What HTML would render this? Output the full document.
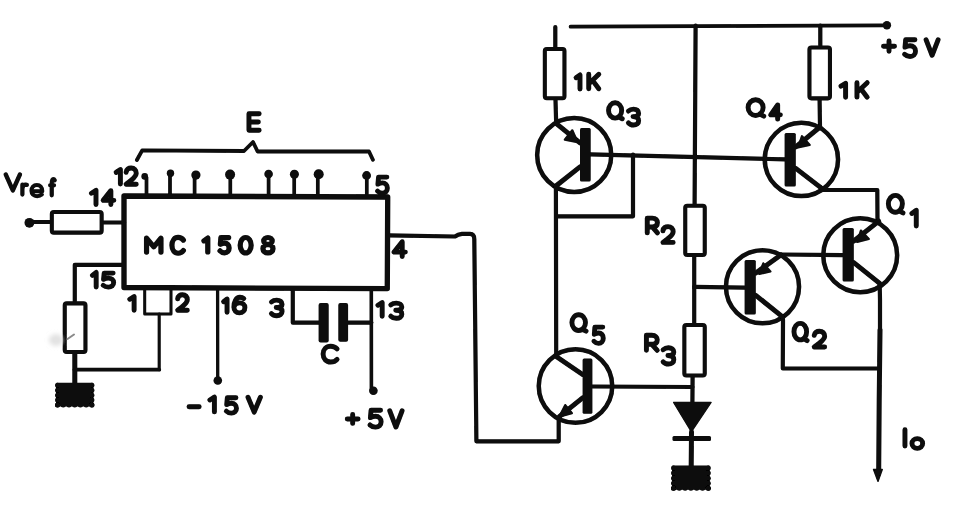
<!DOCTYPE html>
<html><head><meta charset="utf-8"><style>
html,body{margin:0;padding:0;background:#fff;}
svg{display:block;}
</style></head><body>
<svg width="966" height="522" viewBox="0 0 966 522">
<defs><filter id="bl2" x="-50%" y="-50%" width="200%" height="200%"><feGaussianBlur stdDeviation="2"/></filter>
<filter id="soft" filterUnits="userSpaceOnUse" x="0" y="0" width="966" height="522"><feGaussianBlur stdDeviation="0.45"/></filter></defs>
<rect width="966" height="522" fill="#fff"/>
<g filter="url(#soft)">
<g fill="none" stroke="#080808" stroke-width="4.2" stroke-linecap="round" stroke-linejoin="round">
<path d="M124,196 L387.7,197 L387.3,288.6 L124,287.5 Z" stroke-width="5.3"/>
<path d="M30,222 L50,222"/>
<rect x="51.85" y="212.05" width="49.80" height="20.60" rx="2" stroke-width="4.1"/>
<path d="M103.7,222.5 L124,222.5"/>
<path d="M146.5,196 L146.5,177.4" stroke-width="3.7"/>
<path d="M170,196 L170,174.3" stroke-width="3.7"/>
<path d="M194.6,196 L194.6,176.1" stroke-width="3.7"/>
<path d="M230.3,196 L230.3,175.6" stroke-width="3.7"/>
<path d="M268.6,196 L268.6,175" stroke-width="3.7"/>
<path d="M294.2,196 L294.2,175.3" stroke-width="3.7"/>
<path d="M317.8,196 L317.8,175.3" stroke-width="3.7"/>
<path d="M366.8,196 L366.8,176.5" stroke-width="3.7"/>
<path d="M136.9,160 L142.2,150.4 L244,151 L253,142 L257.6,151.5 L369,151.5 L372.9,159.8" stroke-width="3.8"/>
<path d="M124,264.8 L74.8,264.8 L74.8,301.5"/>
<rect x="64.75" y="303.35" width="20.70" height="48.70" rx="2" stroke-width="4.1"/>
<path d="M74.8,354 L74.8,383" stroke-width="5"/>
<path d="M74.5,369.7 L159.2,369.7" stroke-width="3.8"/>
<path d="M159.2,369.7 L159.2,314" stroke-width="3.1"/>
<path d="M144.7,288 L144.7,314 L171,314 L171,288" stroke-width="3.0"/>
<path d="M217.6,288.5 L217.7,380" stroke-width="3.3"/>
<path d="M292.8,289 L292.8,322.7 L319,322.7"/>
<path d="M348,322.6 L371.3,322.6"/>
<path d="M371.3,289 L371.4,390" stroke-width="3.6"/>
<path d="M388,235.4 L455,236.5 Q458,234.3 462,233.8 L470,233.8 Q474.3,234 474.3,239 L476.4,441.3 L558.7,441.3 L558.7,418.6"/>
<path d="M67.5,339 L74,334.5" stroke="#8a8a8a" stroke-width="2"/>
<path d="M570.6,26.7 L887,25.4" stroke-width="3.8"/>
<path d="M555.3,27 L555.3,47"/>
<rect x="544.85" y="48.95" width="19.60" height="49.30" rx="2" stroke-width="4.1"/>
<path d="M555.5,100 L556.2,123.8"/>
<path d="M820.3,25.5 L820.3,46"/>
<rect x="809.45" y="47.45" width="20.50" height="50.90" rx="2" stroke-width="4.1"/>
<path d="M819.6,100 L820,127"/>
<path d="M695.6,25.5 L694.6,204"/>
<rect x="685.25" y="205.75" width="19.50" height="49.20" rx="2" stroke-width="4.1"/>
<path d="M694.2,256.5 L694.2,323"/>
<rect x="684.35" y="324.95" width="20.40" height="50.50" rx="2" stroke-width="4.1"/>
<path d="M692.6,377 L692.4,403"/>
<path d="M691.5,432 L691.2,466" stroke-width="5"/>
<circle cx="574.2" cy="155" r="37.05" stroke-width="4.5"/>
<path d="M590,154.4 L785,159.4"/>
<path d="M556.7,123.8 L580,142.8" stroke-width="4.9"/>
<path d="M580,166.9 L555.9,186" stroke-width="4.9"/>
<path d="M555.9,186 L556.2,356.4"/>
<path d="M633,154.6 L633,216.3 L556.5,216.3"/>
<circle cx="801.4" cy="159.4" r="36.65" stroke-width="4.5"/>
<path d="M820,127 L795.8,146.9" stroke-width="4.9"/>
<path d="M795.8,168.4 L820.8,187.6" stroke-width="4.9"/>
<path d="M820.8,187.6 L822,190 L877.3,190 L877.5,221"/>
<circle cx="860.2" cy="255.3" r="36.95" stroke-width="4.5"/>
<path d="M878.8,221.2 L853.8,241" stroke-width="4.9"/>
<path d="M781,254.5 L842.6,255.2"/>
<path d="M853.8,262.6 L879.7,283.3" stroke-width="4.9"/>
<path d="M879.7,283.3 L880,300 L880,330"/>
<path d="M880,330 L879.2,400 L878.7,470" stroke-width="5"/>
<circle cx="762.5" cy="286.8" r="36.55" stroke-width="4.5"/>
<path d="M780.8,254.9 L755.8,273" stroke-width="4.9"/>
<path d="M694.2,286.8 L744.6,287.7"/>
<path d="M755.8,295.4 L781.7,316.1" stroke-width="4.9"/>
<path d="M781.7,316.1 L783,320 L782.8,368.5 L878.7,368.5"/>
<circle cx="575.5" cy="386.1" r="36.75" stroke-width="4.5"/>
<path d="M556.2,356.4 L582.6,374.5" stroke-width="4.9"/>
<path d="M582.6,397.8 L559.3,416.7" stroke-width="4.9"/>
<path d="M592.4,386.5 L692.4,387"/>
</g>
<g fill="#080808" stroke="none">
<circle cx="29.4" cy="222.8" r="4.9"/>
<circle cx="144.7" cy="176.4" r="3.3"/>
<circle cx="170.5" cy="173.3" r="3.7"/>
<circle cx="195.9" cy="175.1" r="4.6"/>
<circle cx="230.1" cy="174.6" r="5"/>
<circle cx="268.6" cy="174" r="4.3"/>
<circle cx="294.4" cy="174.3" r="4.5"/>
<circle cx="318.7" cy="174.3" r="5"/>
<circle cx="366.6" cy="175.5" r="4.4"/>
<rect x="56" y="382.7" width="37.40" height="23.90" rx="1"/>
<circle cx="57.50" cy="385.20" r="2.5"/><circle cx="91.90" cy="385.20" r="2.5"/>
<circle cx="57.50" cy="390.18" r="2.5"/><circle cx="91.90" cy="390.18" r="2.5"/>
<circle cx="57.50" cy="395.15" r="2.5"/><circle cx="91.90" cy="395.15" r="2.5"/>
<circle cx="57.50" cy="400.12" r="2.5"/><circle cx="91.90" cy="400.12" r="2.5"/>
<circle cx="57.50" cy="405.10" r="2.5"/><circle cx="91.90" cy="405.10" r="2.5"/>
<circle cx="57.50" cy="405.10" r="2.5"/>
<circle cx="63.23" cy="405.10" r="2.5"/>
<circle cx="68.97" cy="405.10" r="2.5"/>
<circle cx="74.70" cy="405.10" r="2.5"/>
<circle cx="80.43" cy="405.10" r="2.5"/>
<circle cx="86.17" cy="405.10" r="2.5"/>
<circle cx="91.90" cy="405.10" r="2.5"/>
<circle cx="217.8" cy="380.5" r="4.3"/>
<rect x="318.6" y="302.9" width="10.10" height="39.50" rx="2"/>
<rect x="338.3" y="302.9" width="9.80" height="38.80" rx="2"/>
<circle cx="373.4" cy="390.8" r="4.3"/>
<ellipse cx="56" cy="340" rx="7" ry="6" fill="#e2e2e2" filter="url(#bl2)"/>
<circle cx="886.9" cy="25.2" r="4.2"/>
<polygon points="673.7,402.4 711,402.4 691.4,431.5" stroke="#080808" stroke-width="1.5" stroke-linejoin="round"/>
<rect x="672.5" y="436" width="38.50" height="5.00" rx="1.5"/>
<rect x="672" y="465.5" width="37.80" height="24.30" rx="1"/>
<circle cx="673.50" cy="468.00" r="2.5"/><circle cx="708.30" cy="468.00" r="2.5"/>
<circle cx="673.50" cy="473.07" r="2.5"/><circle cx="708.30" cy="473.07" r="2.5"/>
<circle cx="673.50" cy="478.15" r="2.5"/><circle cx="708.30" cy="478.15" r="2.5"/>
<circle cx="673.50" cy="483.23" r="2.5"/><circle cx="708.30" cy="483.23" r="2.5"/>
<circle cx="673.50" cy="488.30" r="2.5"/><circle cx="708.30" cy="488.30" r="2.5"/>
<circle cx="673.50" cy="488.30" r="2.5"/>
<circle cx="679.30" cy="488.30" r="2.5"/>
<circle cx="685.10" cy="488.30" r="2.5"/>
<circle cx="690.90" cy="488.30" r="2.5"/>
<circle cx="696.70" cy="488.30" r="2.5"/>
<circle cx="702.50" cy="488.30" r="2.5"/>
<circle cx="708.30" cy="488.30" r="2.5"/>
<rect x="580" y="128.1" width="10.70" height="53.50" rx="1.5"/>
<polygon points="577.5,142.2 564.8,139.6 572.3,130.3" stroke="#080808" stroke-width="2.2" stroke-linejoin="round"/>
<rect x="784.6" y="133.1" width="11.20" height="53.50" rx="1.5"/>
<polygon points="798.0,147.5 802.0,136.2 809.7,144.9" stroke="#080808" stroke-width="2.2" stroke-linejoin="round"/>
<rect x="842.6" y="228.1" width="11.20" height="53.50" rx="1.5"/>
<polygon points="857.2,242.0 860.9,230.6 868.8,239.0" stroke="#080808" stroke-width="2.2" stroke-linejoin="round"/>
<polygon points="873.6,469.5 882.2,469.5 878,481.2" stroke="#080808" stroke-width="1.5" stroke-linejoin="round"/>
<rect x="744.6" y="260.1" width="11.20" height="54.30" rx="1.5"/>
<polygon points="759.3,274.0 763.3,263.4 770.4,271.5" stroke="#080808" stroke-width="2.2" stroke-linejoin="round"/>
<rect x="582.6" y="358.6" width="9.80" height="55.20" rx="1.5"/>
<polygon points="559.3,416.7 565.3,405.1 571.9,413.2" stroke="#080808" stroke-width="2.2" stroke-linejoin="round"/>
</g>
<g fill="none" stroke="#080808" stroke-linecap="round" stroke-linejoin="round">
<g id="g0"><path d="M 5.72,174.43 L 12.84,190.45 L 19.96,174.43" stroke-width="4.4"/></g>
<g id="g1"><path d="M 22.39,184.63 L 22.39,194.55 M 22.39,188.60 C 22.93,185.82 24.19,184.63 25.54,184.63 L 26.89,184.83" stroke-width="4.2"/></g>
<g id="g2"><path d="M 31.67,191.21 L 42.31,191.21 C 42.31,187.41 39.92,184.94 36.88,184.94 C 33.62,184.94 31.45,187.41 31.45,190.76 C 31.45,193.89 33.62,196.13 37.10,196.13 C 39.05,196.13 40.68,195.57 41.87,194.57" stroke-width="4.0"/></g>
<g id="g3"><path d="M 54.71,180.26 C 54.25,179.28 53.79,179.12 53.34,179.12 C 52.19,179.12 51.73,181.07 51.73,183.99 L 51.73,195.35 M 50.12,185.29 L 54.02,185.29" stroke-width="4.2"/></g>
<g id="g4"><path d="M 91.44,193.24 L 95.99,190.41 L 95.99,204.58" stroke-width="4.9"/></g>
<g id="g5"><path d="M 110.87,204.52 L 110.87,190.63 L 103.16,200.35 L 113.87,200.35" stroke-width="4.9"/></g>
<g id="g6"><path d="M 116.13,172.39 L 120.38,169.49 L 120.38,184.01" stroke-width="4.9"/></g>
<g id="g7"><path d="M 126.11,172.23 C 126.31,169.31 128.64,168.02 131.17,168.02 C 134.21,168.02 136.24,169.96 136.24,173.20 C 136.24,176.12 133.71,178.06 130.67,180.66 L 126.11,184.22 L 136.24,184.22" stroke-width="4.9"/></g>
<g id="g8"><path d="M 259.16,113.80 L 248.95,113.80 L 248.95,130.21 L 259.16,130.21 M 248.95,122.01 L 258.34,122.01" stroke-width="4.9"/></g>
<g id="g9"><path d="M 386.86,177.11 L 378.53,177.11 L 377.94,184.16 C 379.51,183.20 380.98,182.88 382.45,182.88 C 385.39,182.88 387.35,185.12 387.35,188.00 C 387.35,191.21 385.39,193.13 382.45,193.13 C 380.49,193.13 378.72,192.33 377.54,191.05" stroke-width="4.9"/></g>
<g id="g10"><path d="M 402.20,256.55 L 402.20,241.65 L 394.09,252.08 L 405.35,252.08" stroke-width="4.9"/></g>
<g id="g11"><path d="M 92.36,275.36 L 96.17,272.43 L 96.17,287.07" stroke-width="4.9"/></g>
<g id="g12"><path d="M 113.14,273.11 L 104.21,273.11 L 103.59,279.25 C 105.26,278.41 106.84,278.13 108.41,278.13 C 111.56,278.13 113.66,280.09 113.66,282.61 C 113.66,285.40 111.56,287.08 108.41,287.08 C 106.31,287.08 104.42,286.38 103.17,285.26" stroke-width="4.9"/></g>
<g id="g13"><path d="M 129.80,299.23 L 134.11,296.46 L 134.11,310.29" stroke-width="4.9"/></g>
<g id="g14"><path d="M 177.70,298.75 C 177.89,295.96 180.10,294.72 182.50,294.72 C 185.39,294.72 187.31,296.58 187.31,299.68 C 187.31,302.47 184.91,304.33 182.02,306.81 L 177.70,310.22 L 187.31,310.22" stroke-width="4.9"/></g>
<g id="g15"><path d="M 223.62,301.70 L 227.05,299.05 L 227.05,312.30" stroke-width="4.9"/></g>
<g id="g16"><path d="M 243.80,298.53 C 242.70,297.60 241.06,297.29 239.96,297.29 C 236.11,297.29 233.91,301.97 233.91,306.95 C 233.91,310.85 236.11,312.88 239.41,312.88 C 242.70,312.88 244.90,310.54 244.90,307.58 C 244.90,304.46 242.70,302.90 239.63,302.90 C 236.66,302.90 234.46,304.77 233.91,306.95" stroke-width="4.9"/></g>
<g id="g17"><path d="M 271.43,302.00 C 273.03,300.59 274.62,300.13 276.75,300.13 C 279.94,300.13 282.07,301.69 282.07,304.18 C 282.07,306.68 279.94,307.46 276.22,307.46 C 280.47,307.46 282.07,309.17 282.07,311.51 C 282.07,314.16 279.94,315.72 276.75,315.72 C 274.62,315.72 272.71,314.94 271.43,313.54" stroke-width="4.9"/></g>
<g id="g18"><path d="M 377.95,305.26 L 382.17,302.49 L 382.17,316.34" stroke-width="4.9"/></g>
<g id="g19"><path d="M 390.80,304.96 C 392.46,303.60 394.11,303.15 396.32,303.15 C 399.62,303.15 401.83,304.66 401.83,307.08 C 401.83,309.51 399.62,310.26 395.76,310.26 C 400.17,310.26 401.83,311.93 401.83,314.20 C 401.83,316.77 399.62,318.29 396.32,318.29 C 394.11,318.29 392.13,317.53 390.80,316.17" stroke-width="4.9"/></g>
<g id="g20"><path d="M 337.06,348.90 C 335.38,347.00 333.15,346.21 330.63,346.21 C 326.16,346.21 323.09,349.69 323.09,354.11 C 323.09,358.54 326.16,362.02 330.63,362.02 C 333.15,362.02 335.38,361.23 337.06,359.33" stroke-width="4.9"/></g>
<g id="g21"><path d="M 146.55,252.10 L 146.55,238.20 L 153.76,246.82 L 160.96,238.20 L 160.96,252.10" stroke-width="5.2"/></g>
<g id="g22"><path d="M 183.39,240.10 C 182.01,238.20 180.18,237.41 178.12,237.41 C 174.45,237.41 171.93,240.89 171.93,245.33 C 171.93,249.77 174.45,253.26 178.12,253.26 C 180.18,253.26 182.01,252.46 183.39,250.56" stroke-width="5.2"/></g>
<g id="g23"><path d="M 203.96,240.87 L 207.79,238.10 L 207.79,251.94" stroke-width="5.2"/></g>
<g id="g24"><path d="M 228.66,237.54 L 220.93,237.54 L 220.38,244.28 C 221.84,243.37 223.20,243.06 224.57,243.06 C 227.30,243.06 229.12,245.20 229.12,247.96 C 229.12,251.03 227.30,252.87 224.57,252.87 C 222.75,252.87 221.11,252.10 220.02,250.87" stroke-width="5.2"/></g>
<g id="g25"><path d="M 251.16,245.22 C 251.16,249.48 248.70,252.93 245.67,252.93 C 242.63,252.93 240.17,249.48 240.17,245.22 C 240.17,240.97 242.63,237.52 245.67,237.52 C 248.70,237.52 251.16,240.97 251.16,245.22 Z" stroke-width="5.2"/></g>
<g id="g26"><path d="M 272.20,241.07 C 272.20,243.03 270.31,244.62 267.97,244.62 C 265.63,244.62 263.73,243.03 263.73,241.07 C 263.73,239.11 265.63,237.52 267.97,237.52 C 270.31,237.52 272.20,239.11 272.20,241.07 Z M 273.01,248.64 C 273.01,251.03 270.75,252.96 267.97,252.96 C 265.18,252.96 262.93,251.03 262.93,248.64 C 262.93,246.25 265.18,244.31 267.97,244.31 C 270.75,244.31 273.01,246.25 273.01,248.64 Z" stroke-width="5.2"/></g>
<g id="g27"><path d="M 189.03,406.72 L 199.16,406.72" stroke-width="4.9"/></g>
<g id="g28"><path d="M 209.90,399.99 L 214.39,397.02 L 214.39,411.89" stroke-width="4.9"/></g>
<g id="g29"><path d="M 235.94,397.78 L 227.34,397.78 L 226.73,404.53 C 228.35,403.61 229.87,403.30 231.39,403.30 C 234.42,403.30 236.45,405.45 236.45,408.21 C 236.45,411.28 234.42,413.13 231.39,413.13 C 229.36,413.13 227.54,412.36 226.33,411.13" stroke-width="4.9"/></g>
<g id="g30"><path d="M 248.00,397.24 L 254.19,412.15 L 260.39,397.24" stroke-width="4.9"/></g>
<g id="g31"><path d="M 347.25,418.95 L 358.10,418.95 M 352.67,414.49 L 352.67,423.40" stroke-width="4.9"/></g>
<g id="g32"><path d="M 380.56,410.25 L 371.08,410.25 L 370.41,417.67 C 372.20,416.66 373.87,416.32 375.54,416.32 C 378.89,416.32 381.12,418.68 381.12,421.72 C 381.12,425.09 378.89,427.11 375.54,427.11 C 373.31,427.11 371.31,426.27 369.97,424.92" stroke-width="4.9"/></g>
<g id="g33"><path d="M 389.76,410.85 L 395.92,427.04 L 402.07,410.85" stroke-width="4.9"/></g>
<g id="g34"><path d="M 883.51,46.19 L 894.50,46.19 M 889.01,41.04 L 889.01,51.34" stroke-width="4.9"/></g>
<g id="g35"><path d="M 914.94,39.79 L 905.67,39.79 L 905.01,47.13 C 906.76,46.13 908.39,45.80 910.03,45.80 C 913.30,45.80 915.49,48.13 915.49,51.13 C 915.49,54.47 913.30,56.47 910.03,56.47 C 907.85,56.47 905.89,55.64 904.58,54.30" stroke-width="4.9"/></g>
<g id="g36"><path d="M 926.11,39.84 L 932.10,55.32 L 938.09,39.84" stroke-width="4.9"/></g>
<g id="g37"><path d="M 576.08,77.73 L 579.99,74.90 L 579.99,89.06" stroke-width="4.9"/></g>
<g id="g38"><path d="M 588.74,74.25 L 588.74,88.74 M 598.79,74.25 L 589.14,83.52 M 592.56,80.34 L 598.79,88.74" stroke-width="4.9"/></g>
<g id="g39"><path d="M 841.01,86.11 L 845.61,83.33 L 845.61,97.21" stroke-width="4.9"/></g>
<g id="g40"><path d="M 856.95,82.69 L 856.95,97.15 M 867.18,82.69 L 857.36,91.94 M 860.84,88.76 L 867.18,97.15" stroke-width="4.9"/></g>
<g id="g41"><path d="M 621.67,110.41 C 621.67,114.65 618.73,118.08 615.10,118.08 C 611.48,118.08 608.54,114.65 608.54,110.41 C 608.54,106.18 611.48,102.75 615.10,102.75 C 618.73,102.75 621.67,106.18 621.67,110.41 Z M 618.66,116.80 L 622.22,118.72" stroke-width="4.9"/></g>
<g id="g42"><path d="M 628.41,111.04 C 629.94,109.60 631.48,109.12 633.53,109.12 C 636.60,109.12 638.65,110.72 638.65,113.26 C 638.65,115.81 636.60,116.61 633.01,116.61 C 637.11,116.61 638.65,118.36 638.65,120.75 C 638.65,123.46 636.60,125.05 633.53,125.05 C 631.48,125.05 629.64,124.25 628.41,122.82" stroke-width="4.9"/></g>
<g id="g43"><path d="M 763.12,107.60 C 763.12,111.93 759.76,115.45 755.61,115.45 C 751.47,115.45 748.10,111.93 748.10,107.60 C 748.10,103.27 751.47,99.76 755.61,99.76 C 759.76,99.76 763.12,103.27 763.12,107.60 Z M 759.68,114.14 L 763.75,116.10" stroke-width="4.9"/></g>
<g id="g44"><path d="M 777.67,119.15 L 777.67,104.86 L 770.69,114.87 L 780.38,114.87" stroke-width="4.9"/></g>
<g id="g45"><path d="M 902.38,203.80 C 902.38,208.48 899.24,212.27 895.37,212.27 C 891.50,212.27 888.36,208.48 888.36,203.80 C 888.36,199.13 891.50,195.34 895.37,195.34 C 899.24,195.34 902.38,199.13 902.38,203.80 Z M 899.17,210.86 L 902.97,212.98" stroke-width="4.9"/></g>
<g id="g46"><path d="M 911.79,213.43 L 916.26,210.28 L 916.26,226.00" stroke-width="4.9"/></g>
<g id="g47"><path d="M 806.60,331.64 C 806.60,336.20 803.77,339.90 800.28,339.90 C 796.80,339.90 793.97,336.20 793.97,331.64 C 793.97,327.08 796.80,323.38 800.28,323.38 C 803.77,323.38 806.60,327.08 806.60,331.64 Z M 803.71,338.53 L 807.13,340.59" stroke-width="4.9"/></g>
<g id="g48"><path d="M 814.23,335.28 C 814.44,332.45 816.84,331.19 819.45,331.19 C 822.58,331.19 824.67,333.08 824.67,336.23 C 824.67,339.06 822.06,340.95 818.93,343.47 L 814.23,346.93 L 824.67,346.93" stroke-width="4.9"/></g>
<g id="g49"><path d="M 585.48,322.61 C 585.48,326.99 582.44,330.54 578.69,330.54 C 574.94,330.54 571.90,326.99 571.90,322.61 C 571.90,318.24 574.94,314.69 578.69,314.69 C 582.44,314.69 585.48,318.24 585.48,322.61 Z M 582.37,329.22 L 586.05,331.20" stroke-width="4.9"/></g>
<g id="g50"><path d="M 602.77,327.11 L 594.90,327.11 L 594.34,334.25 C 595.83,333.27 597.22,332.95 598.61,332.95 C 601.38,332.95 603.24,335.22 603.24,338.14 C 603.24,341.39 601.38,343.34 598.61,343.34 C 596.75,343.34 595.08,342.52 593.97,341.23" stroke-width="4.9"/></g>
<g id="g51"><path d="M 647.25,232.90 L 647.25,218.13 L 652.34,218.13 C 655.90,218.13 657.43,220.35 657.43,222.56 C 657.43,225.22 655.90,226.99 652.34,226.99 L 647.25,226.99 M 652.34,226.99 L 657.43,232.90" stroke-width="4.9"/></g>
<g id="g52"><path d="M 662.98,230.70 C 663.19,227.85 665.52,226.59 668.06,226.59 C 671.11,226.59 673.15,228.49 673.15,231.65 C 673.15,234.49 670.61,236.39 667.56,238.92 L 662.98,242.40 L 673.15,242.40" stroke-width="4.9"/></g>
<g id="g53"><path d="M 646.40,350.30 L 646.40,335.25 L 651.83,335.25 C 655.62,335.25 657.25,337.51 657.25,339.77 C 657.25,342.48 655.62,344.28 651.83,344.28 L 646.40,344.28 M 651.83,344.28 L 657.25,350.30" stroke-width="4.9"/></g>
<g id="g54"><path d="M 663.12,349.75 C 664.72,348.29 666.32,347.80 668.46,347.80 C 671.67,347.80 673.80,349.42 673.80,352.02 C 673.80,354.62 671.67,355.44 667.93,355.44 C 672.20,355.44 673.80,357.22 673.80,359.66 C 673.80,362.42 671.67,364.05 668.46,364.05 C 666.32,364.05 664.40,363.24 663.12,361.77" stroke-width="4.9"/></g>
<g id="g55"><path d="M 904.95,429.66 L 904.95,445.93" stroke-width="4.9"/></g>
<g id="g56"><path d="M 922.65,443.47 C 922.65,446.16 920.26,448.34 917.31,448.34 C 914.36,448.34 911.97,446.16 911.97,443.47 C 911.97,440.79 914.36,438.61 917.31,438.61 C 920.26,438.61 922.65,440.79 922.65,443.47 Z" stroke-width="4.9"/></g>
</g>
</g>
</svg>
</body></html>
